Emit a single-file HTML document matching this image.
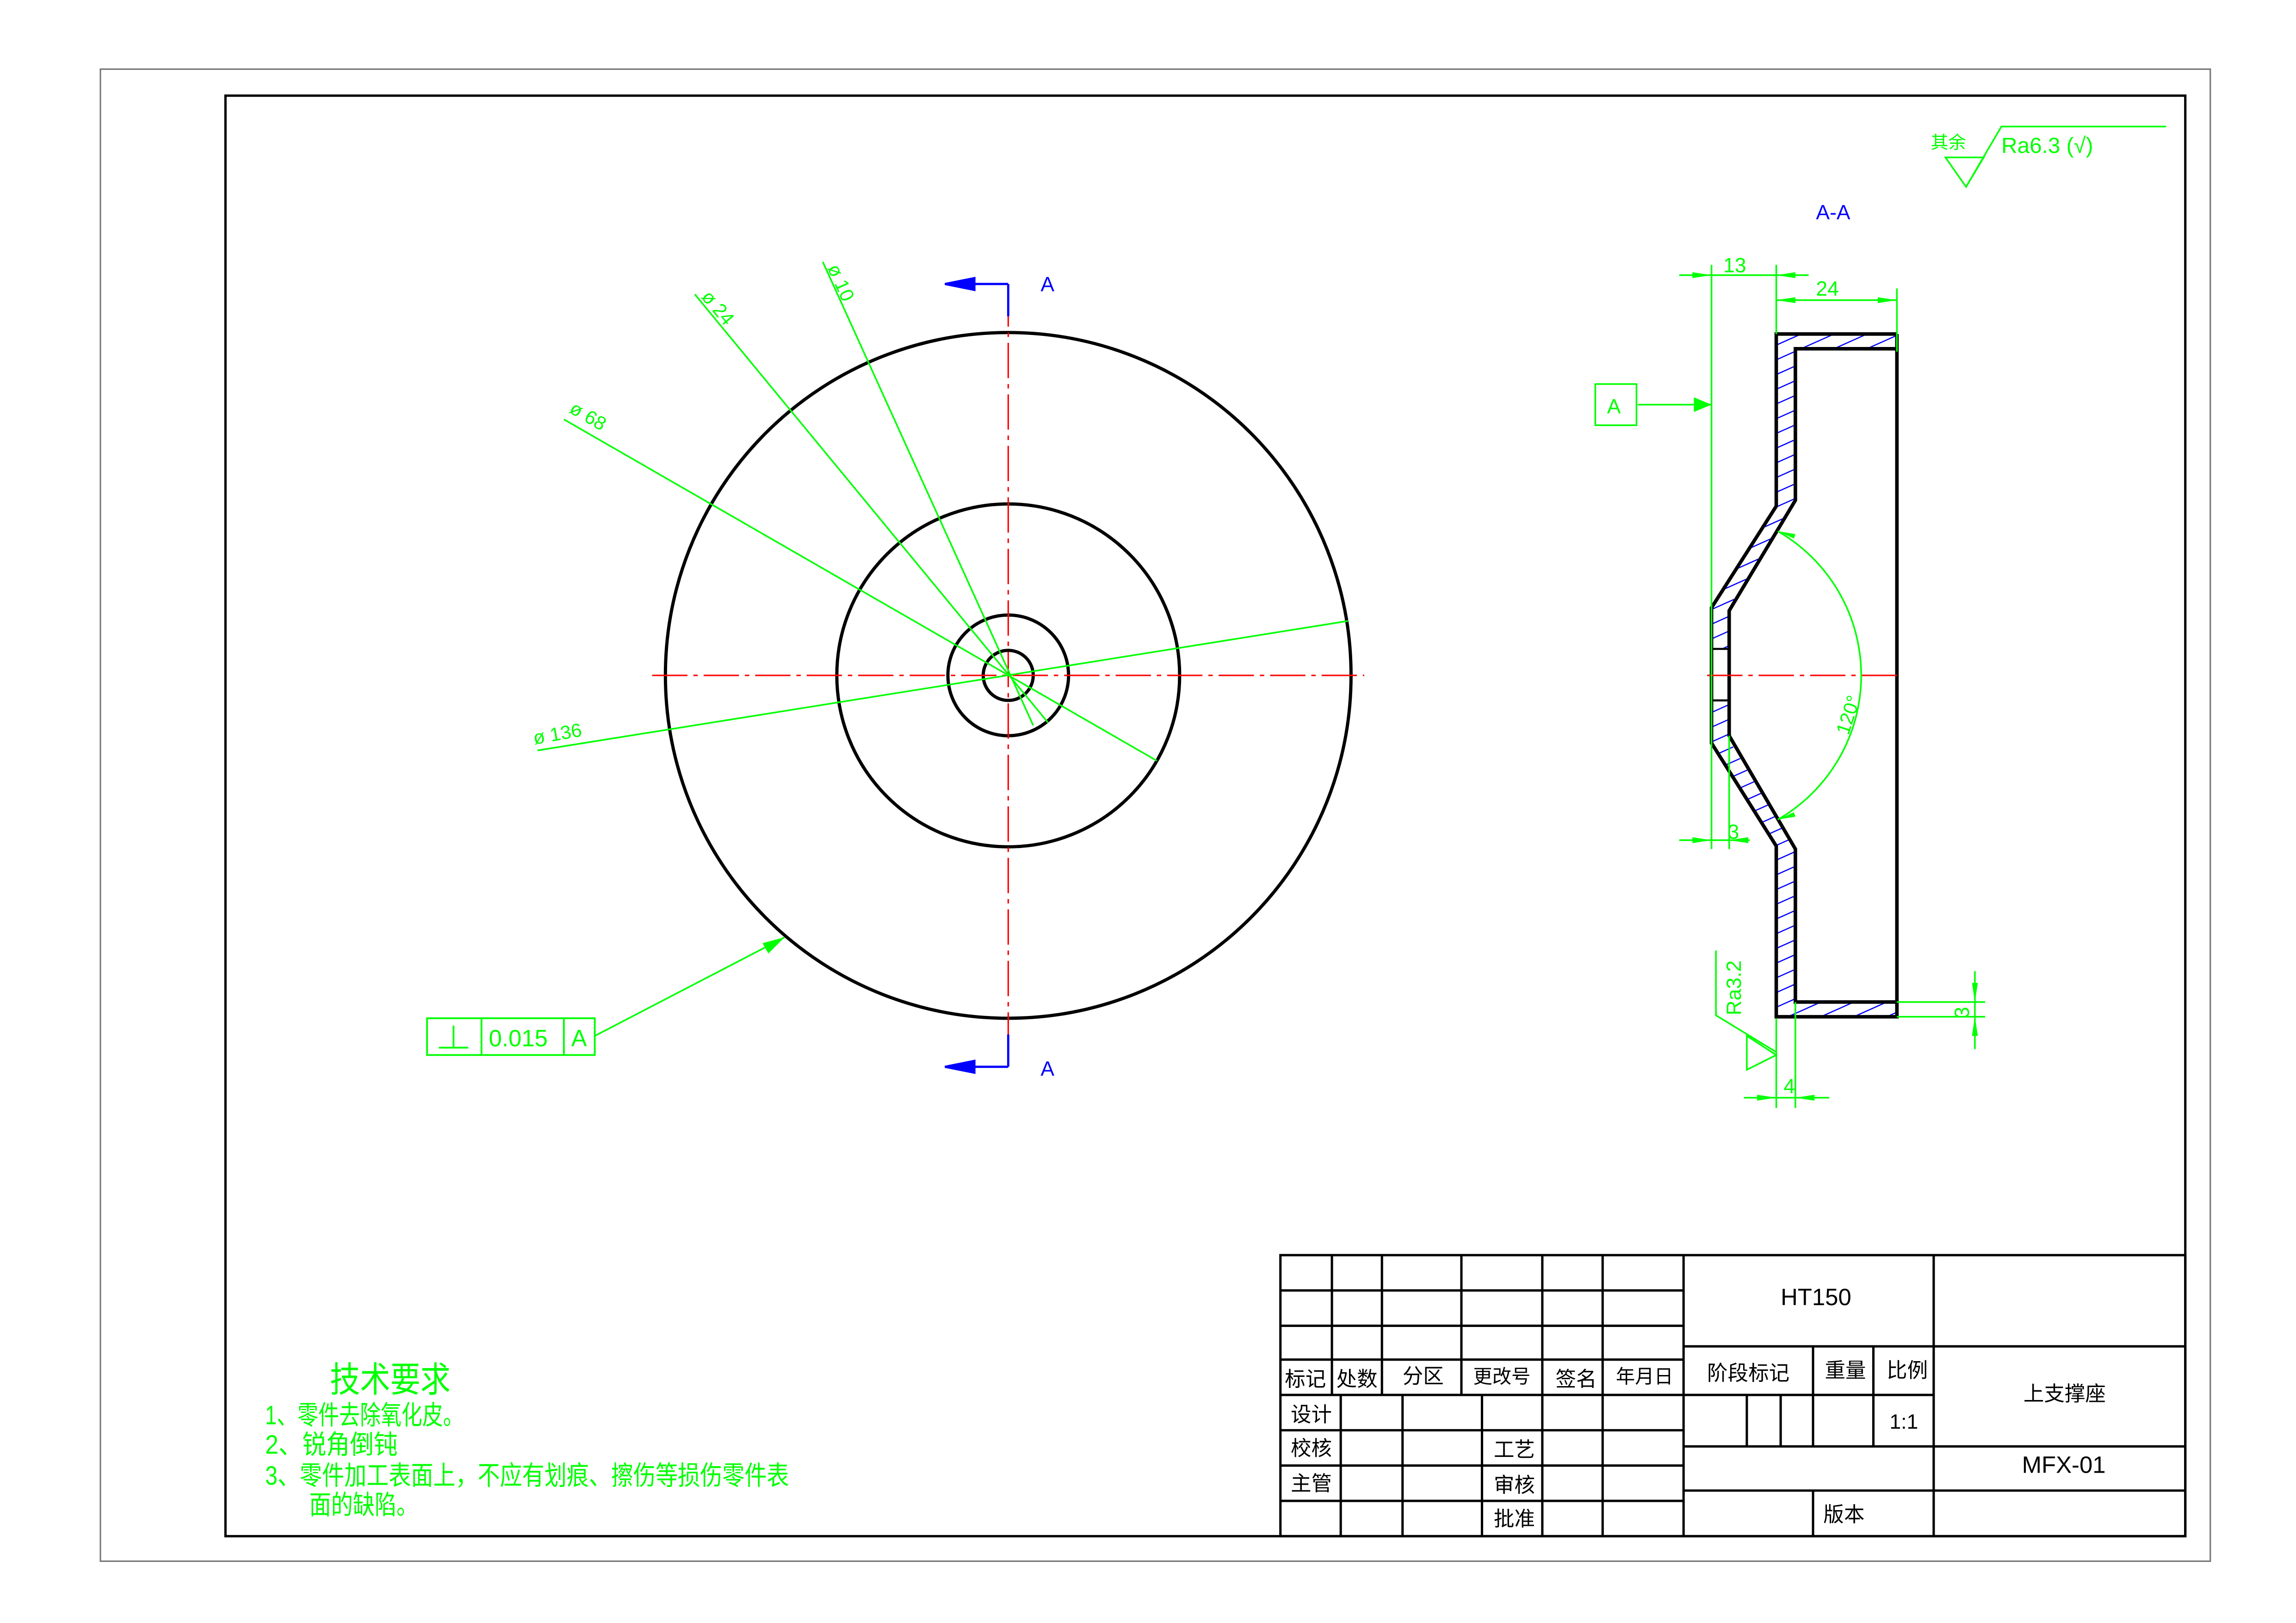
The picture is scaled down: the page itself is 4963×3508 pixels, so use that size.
<!DOCTYPE html>
<html><head><meta charset="utf-8"><style>
html,body{margin:0;padding:0;background:#fff;}
svg{display:block;}
text{font-family:"Liberation Sans","Noto Sans CJK SC",sans-serif;}
</style></head><body>
<svg width="4963" height="3508" viewBox="0 0 1560 1103" xmlns="http://www.w3.org/2000/svg">
<defs>
<clipPath id="c1"><polygon points="1207,227 1289,227 1289,237 1220,237 1220,340 1175,415 1175,441 1163,441 1163,411 1207,344"/></clipPath>
<clipPath id="c2"><polygon points="1207,691 1289,691 1289,681 1220,681 1220,578 1175,503 1175,476 1163,476 1163,507 1207,574"/></clipPath>
</defs>
<rect width="1560" height="1103" fill="#fff"/>
<rect x="68" y="47" width="1434" height="1014" fill="none" stroke="#777" stroke-width="1"/>
<rect x="153" y="65" width="1332" height="979" fill="none" stroke="#000" stroke-width="1.6"/>

<!-- front view -->
<g fill="none" stroke="#000" stroke-width="2.2">
<circle cx="685" cy="459" r="233"/>
<circle cx="685" cy="459" r="116.5"/>
<circle cx="685" cy="459" r="41"/>
<circle cx="685" cy="459" r="17"/>
</g>
<g stroke="#ff0000" stroke-width="1" stroke-dasharray="24,4,3,4">
<line x1="443" y1="459" x2="927" y2="459"/>
<line x1="685" y1="198" x2="685" y2="718"/>
</g>
<g stroke="#0000ff" stroke-width="1.5" fill="#0000ff">
<line x1="685" y1="193" x2="685" y2="215"/><line x1="685" y1="193" x2="660" y2="193"/>
<polygon points="642,193 662,189 662,197"/>
<line x1="685" y1="703" x2="685" y2="725"/><line x1="685" y1="725" x2="660" y2="725"/>
<polygon points="642,725 662,721 662,729"/>
</g>
<g fill="#0000ff" font-size="14"><text x="707" y="198">A</text><text x="707" y="731">A</text><text x="1234" y="149">A-A</text></g>

<g stroke="#00ff00" stroke-width="1.1" fill="none">
<line x1="559" y1="178" x2="702" y2="493"/>
<line x1="472" y1="200" x2="712" y2="491"/>
<line x1="383" y1="285" x2="786" y2="517"/>
<line x1="365" y1="510" x2="916" y2="422"/>
<line x1="404" y1="704" x2="533" y2="637"/>
</g>
<g fill="#00ff00"><polygon points="533,637 518,641 522,648"/></g>
<g fill="#00ff00" font-size="13">
<text transform="translate(562,182) rotate(66)">ø 10</text>
<text transform="translate(476,202) rotate(50)">ø 24</text>
<text transform="translate(386,280) rotate(30)">ø 68</text>
<text transform="translate(363,506) rotate(-10)">ø 136</text>
</g>
<g stroke="#00ff00" stroke-width="1.2" fill="none">
<rect x="290" y="692" width="114" height="25"/>
<line x1="327" y1="692" x2="327" y2="717"/><line x1="383" y1="692" x2="383" y2="717"/>
<line x1="308" y1="697" x2="308" y2="712"/><line x1="298" y1="712" x2="318" y2="712"/>
</g>
<g fill="#00ff00" font-size="16"><text x="332" y="711">0.015</text><text x="388" y="711">A</text></g>

<!-- section view hatch -->
<g stroke="#0000ff" stroke-width="0.8" fill="none">
<path clip-path="url(#c1)" d="M1150,230 l150,-67 M1150,240 l150,-67 M1150,250 l150,-67 M1150,260 l150,-67 M1150,270 l150,-67 M1150,280 l150,-67 M1150,290 l150,-67 M1150,300 l150,-67 M1150,310 l150,-67 M1150,320 l150,-67 M1150,330 l150,-67 M1150,340 l150,-67 M1150,350 l150,-67 M1150,360 l150,-67 M1150,370 l150,-67 M1150,380 l150,-67 M1150,390 l150,-67 M1150,400 l150,-67 M1150,410 l150,-67 M1150,420 l150,-67 M1150,430 l150,-67 M1150,440 l150,-67 M1150,450 l150,-67 M1150,460 l150,-67 M1150,470 l150,-67 M1150,480 l150,-67 M1150,490 l150,-67 M1150,500 l150,-67 M1150,510 l150,-67 M1150,520 l150,-67 M1150,530 l150,-67 M1150,540 l150,-67"/>
<path clip-path="url(#c2)" d="M1150,470 l150,-67 M1150,480 l150,-67 M1150,490 l150,-67 M1150,500 l150,-67 M1150,510 l150,-67 M1150,520 l150,-67 M1150,530 l150,-67 M1150,540 l150,-67 M1150,550 l150,-67 M1150,560 l150,-67 M1150,570 l150,-67 M1150,580 l150,-67 M1150,590 l150,-67 M1150,600 l150,-67 M1150,610 l150,-67 M1150,620 l150,-67 M1150,630 l150,-67 M1150,640 l150,-67 M1150,650 l150,-67 M1150,660 l150,-67 M1150,670 l150,-67 M1150,680 l150,-67 M1150,690 l150,-67 M1150,700 l150,-67 M1150,710 l150,-67 M1150,720 l150,-67 M1150,730 l150,-67 M1150,740 l150,-67 M1150,750 l150,-67 M1150,760 l150,-67 M1150,770 l150,-67"/>
</g>
<g fill="none" stroke="#000" stroke-width="2.4" stroke-linejoin="miter">
<polyline points="1289,227 1207,227 1207,344 1163,413 1163,505 1207,575 1207,691 1289,691 1289,227"/>
<polyline points="1289,237 1220,237 1220,340 1175,415 1175,500 1220,577 1220,681 1289,681"/>
</g>
<g stroke="#000" stroke-width="1.4"><line x1="1163" y1="441" x2="1175" y2="441"/><line x1="1163" y1="476" x2="1175" y2="476"/></g>
<line x1="1160" y1="459" x2="1290" y2="459" stroke="#ff0000" stroke-width="1" stroke-dasharray="24,4,3,4"/>

<g stroke="#00ff00" stroke-width="1.1" fill="none">
<line x1="1141" y1="187" x2="1229" y2="187"/>
<line x1="1163" y1="180" x2="1163" y2="577"/>
<line x1="1207" y1="180" x2="1207" y2="227"/>
<line x1="1207" y1="204" x2="1289" y2="204"/>
<line x1="1289" y1="196" x2="1289" y2="239"/>
<line x1="1113" y1="275" x2="1163" y2="275"/>
<rect x="1084" y="261" width="28" height="28"/>
<line x1="1141" y1="571" x2="1189" y2="571"/>
<line x1="1175" y1="500" x2="1175" y2="577"/>
<path d="M1208,361 A113,113 0 0 1 1208,557"/>
<polyline points="1166,646 1166,690 1207,715"/>
<polygon points="1187,704 1187,727 1207,717"/>
<line x1="1185" y1="746" x2="1243" y2="746"/>
<line x1="1207" y1="692" x2="1207" y2="753"/>
<line x1="1220" y1="681" x2="1220" y2="753"/>
<line x1="1289" y1="681" x2="1349" y2="681"/>
<line x1="1289" y1="691" x2="1349" y2="691"/>
<line x1="1342" y1="660" x2="1342" y2="713"/>
</g>
<g fill="#00ff00">
<polygon points="1163,187 1150,185 1150,189"/><polygon points="1207,187 1220,185 1220,189"/>
<polygon points="1207,204 1220,202 1220,206"/><polygon points="1289,204 1276,202 1276,206"/>
<polygon points="1163,275 1151,270 1151,280"/>
<polygon points="1163,571 1150,569 1150,573"/><polygon points="1175,571 1188,569 1188,573"/>
<polygon points="1208,361 1220,363 1219,366"/><polygon points="1208,557 1220,555 1219,552"/>
<polygon points="1207,746 1194,744 1194,748"/><polygon points="1220,746 1233,744 1233,748"/>
<polygon points="1342,681 1340,668 1344,668"/><polygon points="1342,691 1340,704 1344,704"/>
</g>
<g fill="#00ff00" font-size="14">
<text x="1171" y="185">13</text>
<text x="1234" y="201">24</text>
<text x="1092" y="281">A</text>
<text x="1174" y="570">3</text>
<text x="1212" y="743">4</text>
<text transform="translate(1256,500) rotate(-72)" font-size="13">120°</text>
<text transform="translate(1183,690) rotate(-90)">Ra3.2</text>
<text transform="translate(1338,692) rotate(-90)">3</text>
</g>

<g stroke="#00ff00" stroke-width="1.1" fill="none">
<polygon points="1322,107 1348,107 1336,127"/>
<polyline points="1336,127 1360,86 1472,86"/>
</g>
<g fill="#00ff00"><text x="1312" y="101" font-size="12">其余</text><text x="1360" y="104" font-size="15">Ra6.3 (√)</text></g>

<!-- tech requirements -->
<g fill="#00ff00">
<text x="224" y="946" font-size="24" textLength="82" lengthAdjust="spacingAndGlyphs">技术要求</text>
<text x="180" y="968" font-size="18" textLength="135" lengthAdjust="spacingAndGlyphs">1、零件去除氧化皮。</text>
<text x="180" y="988" font-size="18" textLength="90" lengthAdjust="spacingAndGlyphs">2、锐角倒钝</text>
<text x="180" y="1009" font-size="18" textLength="356" lengthAdjust="spacingAndGlyphs">3、零件加工表面上，不应有划痕、擦伤等损伤零件表</text>
<text x="210" y="1029" font-size="18" textLength="74" lengthAdjust="spacingAndGlyphs">面的缺陷。</text>
</g>

<!-- title block -->
<g stroke="#000" stroke-width="1.6" fill="none">
<rect x="870" y="853" width="615" height="191"/>
<line x1="870" y1="877" x2="1144" y2="877"/>
<line x1="870" y1="901" x2="1144" y2="901"/>
<line x1="870" y1="924" x2="1144" y2="924"/>
<line x1="870" y1="948" x2="1144" y2="948"/>
<line x1="870" y1="972" x2="1144" y2="972"/>
<line x1="870" y1="996" x2="1144" y2="996"/>
<line x1="870" y1="1020" x2="1144" y2="1020"/>
<line x1="905" y1="853" x2="905" y2="948"/>
<line x1="939" y1="853" x2="939" y2="948"/>
<line x1="993" y1="853" x2="993" y2="948"/>
<line x1="911" y1="948" x2="911" y2="1044"/>
<line x1="953" y1="948" x2="953" y2="1044"/>
<line x1="1007" y1="948" x2="1007" y2="1044"/>
<line x1="1048" y1="853" x2="1048" y2="1044"/>
<line x1="1089" y1="853" x2="1089" y2="1044"/>
<line x1="1144" y1="853" x2="1144" y2="1044"/>
<line x1="1314" y1="853" x2="1314" y2="1044"/>
<line x1="1144" y1="915" x2="1485" y2="915"/>
<line x1="1144" y1="948" x2="1314" y2="948"/>
<line x1="1144" y1="983" x2="1485" y2="983"/>
<line x1="1144" y1="1013" x2="1485" y2="1013"/>
<line x1="1232" y1="915" x2="1232" y2="983"/>
<line x1="1273" y1="915" x2="1273" y2="983"/>
<line x1="1187" y1="948" x2="1187" y2="983"/>
<line x1="1210" y1="948" x2="1210" y2="983"/>
<line x1="1232" y1="1013" x2="1232" y2="1044"/>
</g>
<g fill="#000" font-size="14">
<text x="873" y="942">标记</text><text x="908" y="942">处数</text><text x="953" y="940">分区</text>
<text x="1001" y="940" font-size="13">更改号</text><text x="1057" y="942">签名</text><text x="1098" y="940" font-size="13">年月日</text>
<text x="877" y="966">设计</text><text x="877" y="989">校核</text><text x="877" y="1013">主管</text>
<text x="1015" y="990">工艺</text><text x="1015" y="1014">审核</text><text x="1015" y="1037">批准</text>
<text x="1160" y="938">阶段标记</text><text x="1240" y="936">重量</text><text x="1282" y="936">比例</text>
<text x="1284" y="971">1:1</text>
<text x="1375" y="952">上支撑座</text>
<text x="1239" y="1034">版本</text>
<text x="1210" y="887" font-size="16">HT150</text>
<text x="1374" y="1001" font-size="16">MFX-01</text>
</g>
</svg>
</body></html>
